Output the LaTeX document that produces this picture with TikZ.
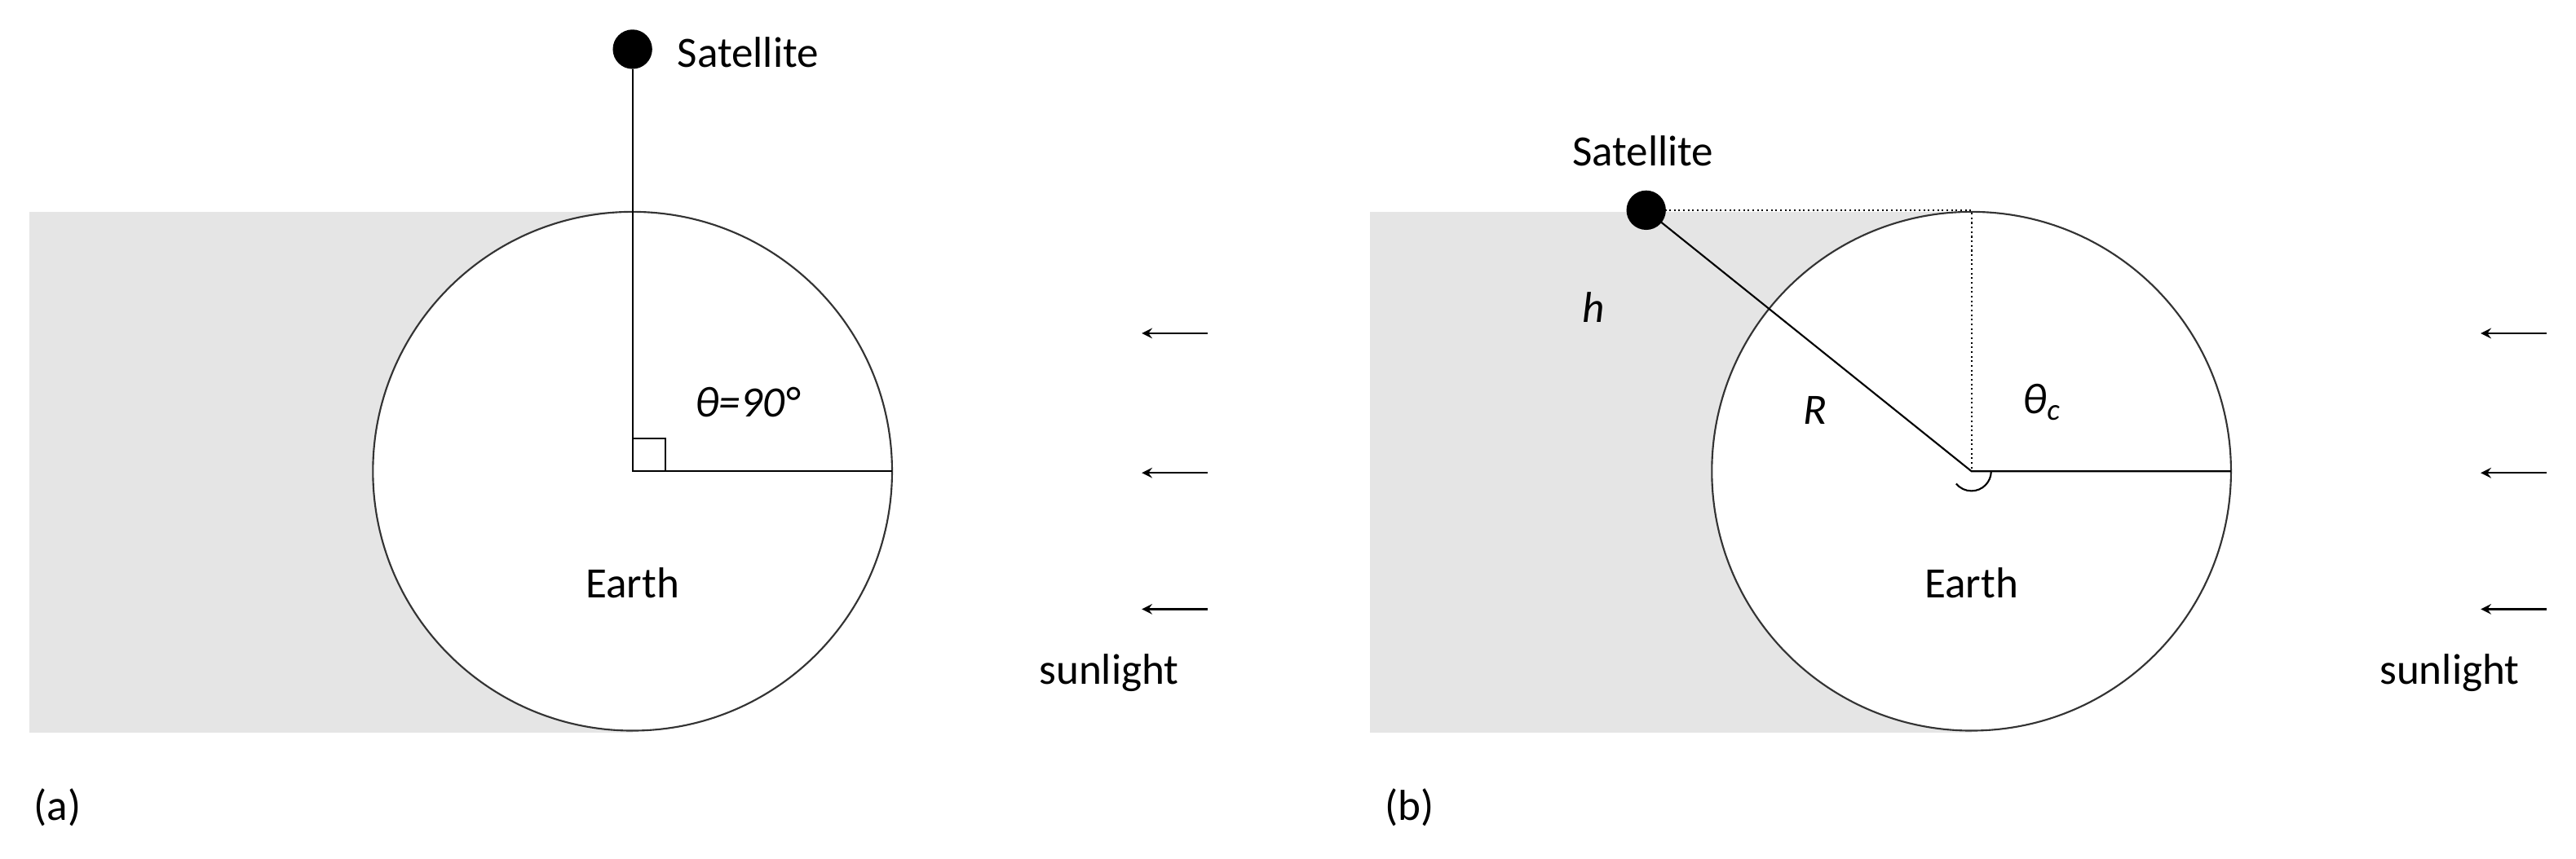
\documentclass[tikz,border=0pt]{standalone}
\usepackage{fontspec}
\setmainfont{Carlito}
\begin{document}
\begin{tikzpicture}[x=0.02cm,y=-0.02cm,
  lbl/.style={font=\fontsize{15}{18}\selectfont, inner sep=0pt},
  shadow/.style={fill=black!10, draw=none},
  earth/.style={draw=black!80, fill=white, line width=0.6pt},
  ln/.style={draw=black, line width=0.6pt},
  sat/.style={circle, fill=black, minimum size=24*0.02cm, inner sep=0pt},
  sun/.style={-stealth, line width=0.6pt}]
\useasboundingbox (0,0) rectangle (1568,523);
% ---- panel a
\fill[shadow] (18,129) rectangle (385,446);
\draw[earth] (385,287) circle (158);
\coordinate (ca) at (385,287);
\coordinate (ra) at (543,287);
\node[sat] (sa) at (385,30) {};
\draw[ln] (sa) -- (ca) -- (ra);
\draw[ln] (385,267) -- (405,267) -- (405,287);
\node[lbl] at (455,245) {\textit{θ=90°}};
\node[lbl] (ea) at (385,355) {Earth};
\node[lbl, anchor=west] (sla) at (412,32) {Satellite};
\foreach \y/\n in {203/1,288/2,371/3}{
  \coordinate (aa\n) at (735,\y); \coordinate (ab\n) at (695,\y);
  \draw[sun] (aa\n) -- (ab\n);}
\node[lbl] (suna) at (675,410) {sunlight};
\node[lbl] (pa) at (35,492) {(a)};
% ---- panel b
\fill[shadow] (834,129) rectangle (1200,446);
\draw[earth] (1200,287) circle (158);
\coordinate (cb) at (1200,287);
\coordinate (rb) at (1358,287);
\coordinate (tb) at (1200,128);
\node[sat] (sb) at (1002,128) {};
\draw[ln] (sb.center) -- (cb) -- (rb);
\draw[dashed, densely dotted, line width=0.6pt] (sb.center) -- (tb) -- (cb);
\draw[ln] (1212,287) arc[start angle=0, end angle=141, radius=12];
\node[lbl] at (970,187) {\textit{h}};
\node[lbl] at (1105,250) {\textit{R}};
\node[lbl] at (1243,245) {\textit{θ\textsubscript{c}}};
\node[lbl] (eb) at (1200,355) {Earth};
\node[lbl] (slb) at (1000,92) {Satellite};
\foreach \y/\n in {203/1,288/2,371/3}{
  \coordinate (ba\n) at (1550,\y); \coordinate (bb\n) at (1510,\y);
  \draw[sun] (ba\n) -- (bb\n);}
\node[lbl] (sunb) at (1491,410) {sunlight};
\node[lbl] (pb) at (858,492) {(b)};
\end{tikzpicture}
\end{document}
